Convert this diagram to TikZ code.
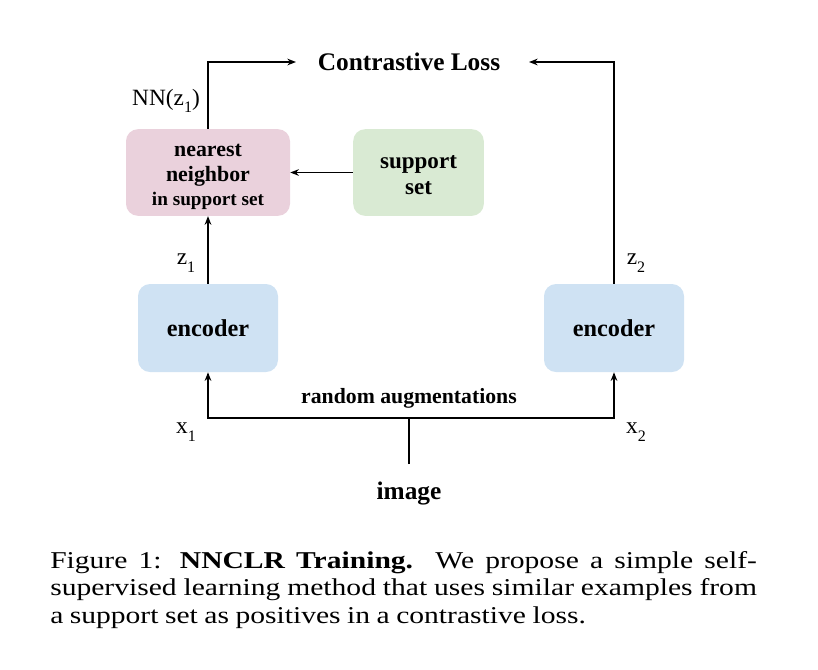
\documentclass[tikz,border=0pt]{standalone}
\usepackage{fontspec}
\setmainfont{Liberation Serif}
\newfontfamily\capfont[FakeStretch=1.225,WordSpace=0.88]{Liberation Serif}
\usetikzlibrary{arrows.meta}
\definecolor{nnpink}{HTML}{EAD1DC}
\definecolor{supgreen}{HTML}{D9EAD3}
\definecolor{encblue}{HTML}{CFE2F3}
\newcommand\lsub[1]{\raisebox{-0.32em}{\fontsize{12}{12}\selectfont #1}}
\tikzset{
  blockbox/.style={rounded corners=9pt, draw=none, align=center, inner sep=0pt},
  blocktext/.style={align=center, inner sep=0pt},
  conn/.style={line width=1pt, -{Stealth[length=6.5pt,width=5pt]}},
  plainline/.style={line width=1pt},
  lbl/.style={font=\fontsize{17.5}{18}\selectfont, inner sep=0pt},
}
\begin{document}
\begin{tikzpicture}[x=0.75pt,y=-0.75pt]
\useasboundingbox (0,0) rectangle (818,669);
% boxes
\node[blockbox, fill=nnpink, minimum width=123pt, minimum height=65pt] (nn) at (208,172.5) {};
\node[blocktext, font=\bfseries\fontsize{16.4}{18.4}\selectfont] (nntext) at (208,177)
  {nearest\\neighbor\\{\fontsize{14.4}{18.4}\selectfont in support set}};
\node[blockbox, fill=supgreen, minimum width=98pt, minimum height=65pt] (sup) at (418.5,172.5) {};
\node[blocktext, font=\bfseries\fontsize{17.3}{19.5}\selectfont] (suptext) at (418.5,175.5)
  {support\\set};
\node[blockbox, fill=encblue, minimum width=105pt, minimum height=66pt,
      font=\bfseries\fontsize{18.2}{20}\selectfont] (enc1) at (208,328)
  {encoder};
\node[blockbox, fill=encblue, minimum width=105pt, minimum height=66pt,
      font=\bfseries\fontsize{18.2}{20}\selectfont] (enc2) at (614,328)
  {encoder};
% texts
\node[font=\bfseries\fontsize{19}{20}\selectfont, inner sep=0pt] (cl) at (409,62) {Contrastive Loss};
\node[font=\bfseries\fontsize{16.3}{18}\selectfont, inner sep=0pt] (ra) at (409,398.5) {random augmentations};
\node[font=\bfseries\fontsize{19}{20}\selectfont, inner sep=0pt] (img) at (409,493.5) {image};
\node[lbl] (nnz) at (166,101) {NN(z\lsub{1})};
\node[lbl] (z1) at (186,263) {z\lsub{1}};
\node[lbl] (z2) at (636,263) {z\lsub{2}};
\node[lbl] (x1) at (186,432) {x\lsub{1}};
\node[lbl] (x2) at (636,432) {x\lsub{2}};
% coordinates
\coordinate (clL) at (296,62);
\coordinate (clR) at (529,62);
\coordinate (split) at (409,418);
\coordinate (imgtop) at (409,464);
% connectors
\draw[conn] (enc1.north) -- (nn.south);
\draw[conn] (sup.west) -- (nn.east);
\draw[conn] (nn.north) |- (clL);
\draw[conn] (enc2.north) |- (clR);
\draw[conn] (split) -| (enc1.south);
\draw[conn] (split) -| (enc2.south);
\draw[plainline] (imgtop) -- (split);
% caption
\node[anchor=base west, inner sep=0pt] (cap) at (50,568)
  {\parbox[t]{530pt}{\capfont\fontsize{18.1}{20.7}\selectfont
  Figure 1: \textbf{NNCLR Training.}\ \ We propose a simple self-\linebreak
  supervised learning method that uses similar examples from\linebreak
  a support set as positives in a contrastive loss.}};
\end{tikzpicture}
\end{document}
